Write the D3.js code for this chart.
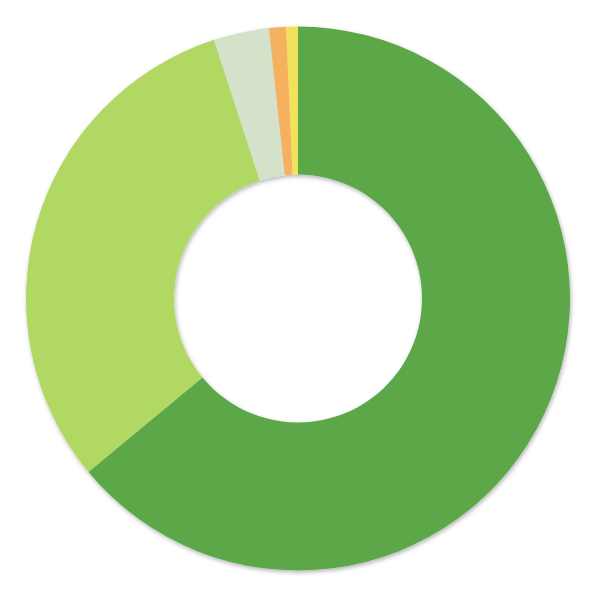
<!DOCTYPE html>
<html>
<head>
<meta charset="utf-8">
<script src="https://cdn.jsdelivr.net/npm/d3@7"></script>
<style>
html,body{margin:0;padding:0;background:#fff;}
svg{display:block;}
</style>
</head>
<body>
<svg id="chart" width="600" height="600"></svg>
<script>
const categories = ["A", "B", "C", "D", "E"];
const values = [64.0, 31.0, 3.3, 1.0, 0.7];
const colors = ["#5ba84a", "#b0d862", "#d4e2ca", "#f6b15f", "#f2e15a"];

const svg = d3.select("#chart");
const defs = svg.append("defs");
const f = defs.append("filter").attr("id", "shadow")
  .attr("x", "-10%").attr("y", "-10%").attr("width", "120%").attr("height", "120%");
f.append("feDropShadow").attr("dx", 1).attr("dy", 2).attr("stdDeviation", 2)
  .attr("flood-color", "#000").attr("flood-opacity", 0.3);

const data = categories.map((c, i) => ({ cat: c, value: values[i], color: colors[i] }));
const pie = d3.pie().value(d => d.value).sort(null);
const arc = d3.arc().innerRadius(124).outerRadius(272);

const g = svg.append("g")
  .attr("transform", "translate(298,298.5)")
  .attr("filter", "url(#shadow)");

g.selectAll("path").data(pie(data)).join("path")
  .attr("d", arc)
  .attr("fill", d => d.data.color);
</script>
</body>
</html>
